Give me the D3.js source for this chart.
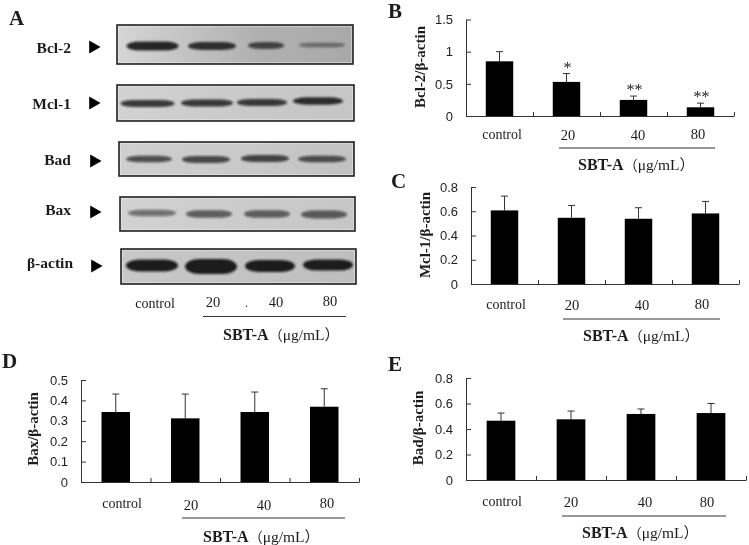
<!DOCTYPE html>
<html><head><meta charset="utf-8">
<script src="https://cdn.jsdelivr.net/npm/d3@7"></script>
<style>
html,body{margin:0;padding:0;background:#fff}
svg{display:block;filter:blur(0.35px)}
text{fill:#1c1c1c}
</style></head><body>
<svg id="c" width="749" height="545"></svg>
<script>
// ---- data ----
const categories = ["control", "20", "40", "80"];
const bcl2Values = [0.85, 0.53, 0.25, 0.135];
const bcl2Errors = [0.15, 0.13, 0.06, 0.065];
const bcl2Stars = ["", "*", "**", "**"];
const bcl2Ticks = [0, 0.5, 1, 1.5];
const mcl1Values = [0.607, 0.546, 0.538, 0.582];
const mcl1Errors = [0.118, 0.102, 0.091, 0.099];
const mcl1Ticks = [0, 0.2, 0.4, 0.6, 0.8];
const baxValues = [0.343, 0.312, 0.343, 0.369];
const baxErrors = [0.088, 0.119, 0.098, 0.088];
const baxTicks = [0, 0.1, 0.2, 0.3, 0.4, 0.5];
const badValues = [0.465, 0.476, 0.518, 0.525];
const badErrors = [0.06, 0.065, 0.039, 0.075];
const badTicks = [0, 0.2, 0.4, 0.6, 0.8];
const blotProteins = ["Bcl-2", "Mcl-1", "Bad", "Bax", "β-actin"];
const blotBcl2 = [0.67, 0.55, 0.45, 0.22];
const blotMcl1 = [0.45, 0.45, 0.45, 0.5];
const blotBad = [0.42, 0.45, 0.47, 0.43];
const blotBax = [0.42, 0.52, 0.52, 0.55];
const blotActin = [1, 1.3, 1, 0.9];
const unitLabel = "SBT-A";

// ---- layout ----
const svg = d3.select("#c");
const SERIF = "'Liberation Serif',serif", SANS = "'Liberation Sans',sans-serif";
const defs = svg.append("defs");
defs.append("filter").attr("id","soft").attr("x","-20%").attr("y","-80%").attr("width","140%").attr("height","260%")
  .append("feGaussianBlur").attr("stdDeviation","1.2 0.8");

function panelLetter(t,x,y){
  svg.append("text").attr("x",x).attr("y",y).text(t)
    .attr("font-family",SERIF).attr("font-weight","bold").attr("font-size",21);
}
function sbtTitle(x,y){
  const t = svg.append("text").attr("x",x).attr("y",y).attr("font-size",16);
  t.append("tspan").text(unitLabel).attr("font-family",SERIF).attr("font-weight","bold");
  t.append("tspan").text("（").attr("font-family","'Noto Sans CJK SC'").attr("font-size",14);
  t.append("tspan").text("μg/mL").attr("font-family",SERIF).attr("font-size",15.5);
  t.append("tspan").text("）").attr("font-family","'Noto Sans CJK SC'").attr("font-size",15);
}
function xLabels(labels, positions){
  labels.forEach((l,i)=>{
    svg.append("text").text(l).attr("x",positions[i][0]).attr("y",positions[i][1])
      .attr("text-anchor","middle").attr("font-family",SERIF).attr("font-size",i===0?14:14.5);
  });
}
function rule(x1,x2,y){
  svg.append("line").attr("x1",x1).attr("x2",x2).attr("y1",y).attr("y2",y)
    .attr("stroke","#333").attr("stroke-width",1);
}

function barPanel(o){
  const g = svg.append("g");
  const x = d3.scaleBand().domain(categories).range([o.x0,o.x1]).paddingInner(0.59).paddingOuter(0.295);
  const y = d3.scaleLinear().domain([0,d3.max(o.ticks)]).range([o.y0,o.y1]);
  const data = categories.map((c,i)=>({c,v:o.values[i],e:o.errors[i],s:o.stars?o.stars[i]:""}));

  const err = g.selectAll("g.err").data(data).join("g");
  err.append("line").attr("x1",d=>x(d.c)+x.bandwidth()/2).attr("x2",d=>x(d.c)+x.bandwidth()/2)
    .attr("y1",d=>y(d.v)).attr("y2",d=>y(d.v+d.e)).attr("stroke","#333").attr("stroke-width",1);
  err.append("line").attr("x1",d=>x(d.c)+x.bandwidth()/2-3.5).attr("x2",d=>x(d.c)+x.bandwidth()/2+3.5)
    .attr("y1",d=>y(d.v+d.e)).attr("y2",d=>y(d.v+d.e)).attr("stroke","#333").attr("stroke-width",1);
  g.selectAll("rect").data(data).join("rect")
    .attr("x",d=>x(d.c)).attr("width",x.bandwidth())
    .attr("y",d=>y(d.v)).attr("height",d=>y(0)-y(d.v)).attr("fill","#000");
  g.selectAll("text.star").data(data.filter(d=>d.s)).join("text").attr("class","star")
    .attr("x",d=>x(d.c)+x.bandwidth()/2+1).attr("y",d=>y(d.v+d.e)-1)
    .attr("text-anchor","middle").attr("font-family",SERIF).attr("font-size",16).text(d=>d.s);

  const yAxis = d3.axisLeft(y).tickValues(o.ticks).tickSizeInner(-5).tickSizeOuter(0).tickPadding(13)
     .tickFormat(d=>String(d));
  const ya = g.append("g").attr("transform",`translate(${o.x0},0)`).call(yAxis);
  ya.selectAll("text").attr("font-family",SANS).attr("font-size",13).attr("fill","#2a2a2a");
  ya.selectAll("line,path").attr("stroke","#333");
  const bx = d3.scaleLinear().domain([0,categories.length]).range([o.x0,o.x1]);
  const xa = g.append("g").attr("transform",`translate(0,${o.y0})`)
    .call(d3.axisBottom(bx).tickValues(d3.range(1,categories.length+1)).tickSizeInner(-4).tickSizeOuter(0).tickFormat(""));
  xa.selectAll("line,path").attr("stroke","#333");

  svg.append("text").attr("transform",`translate(${o.yl[0]},${o.yl[1]}) rotate(-90)`)
    .attr("text-anchor","middle").attr("font-family",SERIF).attr("font-weight","bold").attr("font-size",15)
    .text(o.ylabel);
  xLabels(categories,o.labels);
  rule(o.rule[0],o.rule[1],o.rule[2]);
  sbtTitle(o.title[0],o.title[1]);
}

barPanel({x0:466,x1:734,y0:116,y1:19.5,values:bcl2Values,errors:bcl2Errors,stars:bcl2Stars,ticks:bcl2Ticks,
  ylabel:"Bcl-2/β-actin",yl:[425,67],labels:[[502,139],[568,140],[638,140],[698,139]],rule:[559,715,148],title:[578,170]});
barPanel({x0:471,x1:739,y0:284,y1:187,values:mcl1Values,errors:mcl1Errors,ticks:mcl1Ticks,
  ylabel:"Mcl-1/β-actin",yl:[430,235],labels:[[506,309],[572,310],[642,310],[702,309]],rule:[563,720,319],title:[583,341]});
barPanel({x0:81,x1:359,y0:482,y1:380,values:baxValues,errors:baxErrors,ticks:baxTicks,
  ylabel:"Bax/β-actin",yl:[38,429],labels:[[122,508],[191,510],[264,510],[327,508]],rule:[182,345,518],title:[203,542]});
barPanel({x0:466,x1:746,y0:480,y1:378,values:badValues,errors:badErrors,ticks:badTicks,
  ylabel:"Bad/β-actin",yl:[423,428],labels:[[502,506],[571,507],[645,507],[707,507]],rule:[562,726,516],title:[582,538]});

// western blot panel
const blots = [
 {v:blotBcl2,box:[117,353,25,64],cx:[152.5,212,266,322],hw:[26,24,18,23],by:[46,46,45.5,45],op:0.95,ly:53,lx:71,ax:[93,47],c:["#d6d6d6","#b0b0b0","#a9a9a9"]},
 {v:blotMcl1,box:[117,354,85,121],cx:[147.5,207,262,318],hw:[27,26,25,25],by:[103.5,103,102.5,101],op:1.05,ly:109,lx:71,ax:[93,103],c:["#d2d2d2","#c8c8c8","#c6c6c6"]},
 {v:blotBad,box:[119,354,142,176],cx:[149,206,265,322],hw:[23,24,24,24],by:[159,159.5,158.5,159],op:0.95,ly:165,lx:71,ax:[94,161],c:["#cfcfcf","#c8c8c8","#c2c2c2"]},
 {v:blotBax,box:[120,355,197,231],cx:[152,209,267,324],hw:[24,23,23,23],by:[213,214,214,214.5],op:0.72,ly:215,lx:71,ax:[94,212],c:["#d2d2d2","#cacaca","#c6c6c6"]},
 {v:blotActin,box:[121,356,249,284],cx:[152,211,270,328],hw:[26,26,25,25],by:[265.5,266.5,266,265],op:1,ly:268,lx:73,ax:[95,266],c:["#c8c8c8","#c2c2c2","#bebebe"]}
];
const opacity = d3.scaleLinear().domain([0.2,0.6]).range([0.45,0.92]).clamp(true);
const thick = d3.scaleLinear().domain([0,1]).range([1.3,6]);
blots.forEach((b,k)=>{
  const [l,r,t,bt]=b.box, id="bg"+k;
  const gr=defs.append("linearGradient").attr("id",id);
  gr.append("stop").attr("offset",0).attr("stop-color",b.c[0]);
  gr.append("stop").attr("offset",0.6).attr("stop-color",b.c[1]);
  gr.append("stop").attr("offset",1).attr("stop-color",b.c[2]);
  const g=svg.append("g");
  g.append("rect").attr("x",l).attr("y",t).attr("width",r-l).attr("height",bt-t).attr("fill",`url(#${id})`);
  g.append("rect").attr("x",l+1.5).attr("y",t+1.5).attr("width",r-l-3).attr("height",bt-t-3)
    .attr("fill","none").attr("stroke","#ececec").attr("stroke-opacity",0.5).attr("stroke-width",1);
  const lanes=categories.map((c,i)=>({c,i,v:b.v[i]}));
  g.selectAll("rect.band").data(lanes).join("rect").attr("class","band")
    .attr("x",d=>b.cx[d.i]-b.hw[d.i]).attr("width",d=>2*b.hw[d.i])
    .attr("y",d=>b.by[d.i]-thick(d.v)).attr("height",d=>2*thick(d.v))
    .attr("rx",14).attr("ry",d=>thick(d.v))
    .attr("fill","#111").attr("fill-opacity",d=>Math.min(1,opacity(d.v)*b.op)).attr("filter","url(#soft)");
  g.append("rect").attr("x",l).attr("y",t).attr("width",r-l).attr("height",bt-t)
    .attr("fill","none").attr("stroke","#222").attr("stroke-width",1.6);
  svg.append("text").attr("x",b.lx).attr("y",b.ly).attr("text-anchor","end")
    .attr("font-family",SERIF).attr("font-weight","bold").attr("font-size",15.5).text(blotProteins[k]);
  svg.append("path").attr("d",d3.symbol(d3.symbolTriangle,75)())
    .attr("transform",`translate(${b.ax[0]},${b.ax[1]}) rotate(90)`).attr("fill","#000");
});
xLabels(categories,[[155,308],[213,307],[276,307],[330,306]]);
svg.append("text").attr("x",245).attr("y",307).text(".").attr("font-family",SERIF).attr("font-size",12);
rule(203,346,316.5);
sbtTitle(223,340);

panelLetter("A",9,25);
panelLetter("B",388,18);
panelLetter("C",391,188);
panelLetter("D",2,368);
panelLetter("E",388,371);
</script>
</body></html>
